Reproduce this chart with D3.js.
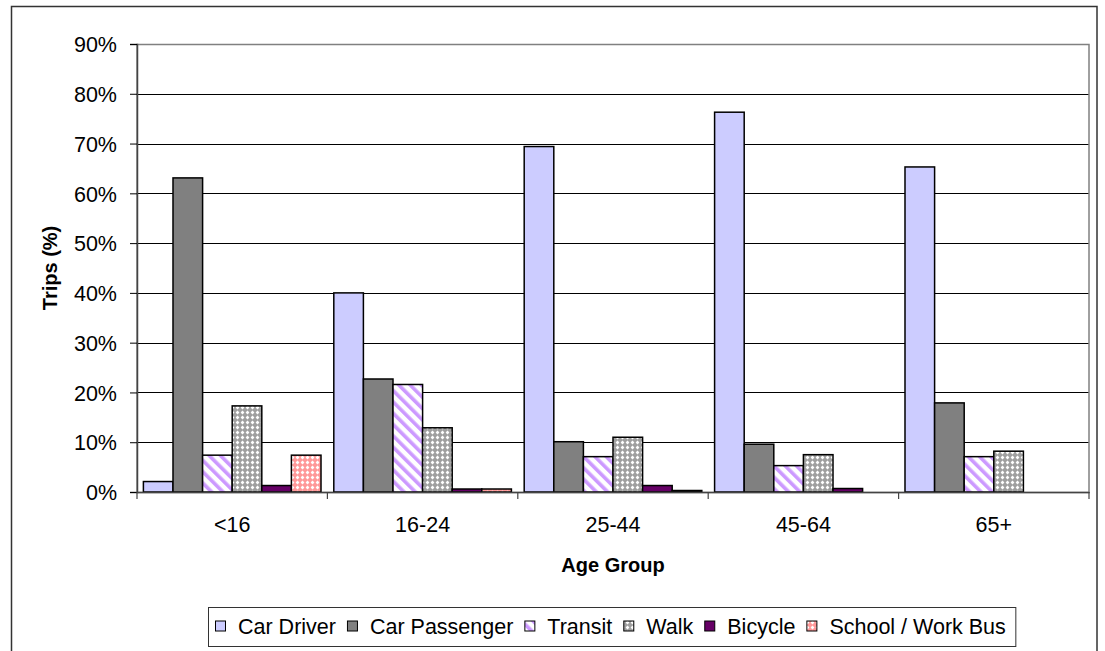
<!DOCTYPE html>
<html>
<head>
<meta charset="utf-8">
<script src="https://cdn.jsdelivr.net/npm/d3@7"></script>
<style>
  html, body { margin: 0; padding: 0; background: #fff; }
  svg { display: block; font-family: "Liberation Sans", Arial, sans-serif; }
</style>
</head>
<body>
<svg id="chart" width="1105" height="651"></svg>
<script>
// Trip mode share by age group
const ageGroups = ["<16", "16-24", "25-44", "45-64", "65+"];
const modes = ["Car Driver", "Car Passenger", "Transit", "Walk", "Bicycle", "School / Work Bus"];

// Share of trips (%) per mode, one array per mode, ordered as ageGroups
const carDriver    = [2.1, 40.0, 69.4, 76.3, 65.3];
const carPassenger = [63.1, 22.7, 10.1, 9.6, 17.9];
const transit      = [7.4, 21.6, 7.1, 5.3, 7.1];
const walk         = [17.3, 12.9, 11.0, 7.5, 8.2];
const bicycle      = [1.3, 0.6, 1.3, 0.7, 0];
const schoolBus    = [7.4, 0.6, 0.3, 0, 0];

const yTicks = [0, 10, 20, 30, 40, 50, 60, 70, 80, 90];

const seriesValues = [carDriver, carPassenger, transit, walk, bicycle, schoolBus];

const svg = d3.select("#chart");
const defs = svg.append("defs");

// Fill patterns
const stripe = defs.append("pattern")
  .attr("id", "pat-transit").attr("patternUnits", "userSpaceOnUse")
  .attr("width", 8).attr("height", 8)
  .attr("patternTransform", "rotate(-45)");
stripe.append("rect").attr("width", 8).attr("height", 8).attr("fill", "#fff");
stripe.append("rect").attr("width", 3.6).attr("height", 8).attr("fill", "#CC99FF");

function dotPattern(id, base) {
  const p = defs.append("pattern")
    .attr("id", id).attr("patternUnits", "userSpaceOnUse")
    .attr("width", 5).attr("height", 5);
  p.append("rect").attr("width", 5).attr("height", 5).attr("fill", base);
  p.append("path").attr("d", "M2.5,0.6 L4.4,2.5 L2.5,4.4 L0.6,2.5 Z").attr("fill", "#fff");
}
dotPattern("pat-walk", "#A0A0A0");
dotPattern("pat-bus", "#FF9999");

const fills = ["#CCCCFF", "#808080", "url(#pat-transit)", "url(#pat-walk)", "#660066", "url(#pat-bus)"];

// Outer chart frame
svg.append("rect")
  .attr("x", 11.5).attr("y", 6.5).attr("width", 1085.5).attr("height", 660)
  .attr("fill", "none").attr("stroke", "#333").attr("stroke-width", 1.5);

const plot = { left: 137, right: 1089, top: 44, bottom: 492 };

const x0 = d3.scaleBand().domain(ageGroups).range([plot.left, plot.right]).padding(0);
const pad = x0.bandwidth() * 0.0336;
const x1 = d3.scaleBand().domain(modes).range([pad, x0.bandwidth() - pad]).padding(0);
const y = d3.scaleLinear().domain([0, 90]).range([plot.bottom, plot.top]);

// Gridlines
svg.append("g").selectAll("line")
  .data(yTicks.filter(t => t > 0 && t < 90))
  .join("line")
  .attr("x1", plot.left).attr("x2", plot.right)
  .attr("y1", d => Math.round(y(d)) + 0.5).attr("y2", d => Math.round(y(d)) + 0.5)
  .attr("stroke", "#000").attr("stroke-width", 1);

// Plot area border
svg.append("rect")
  .attr("x", plot.left).attr("y", plot.top + 0.5)
  .attr("width", plot.right - plot.left).attr("height", plot.bottom - plot.top)
  .attr("fill", "none").attr("stroke", "#808080").attr("stroke-width", 1.5);

// Bars
const barData = [];
ageGroups.forEach((g, gi) => {
  modes.forEach((m, mi) => barData.push({ group: g, mode: m, mi, value: seriesValues[mi][gi] }));
});

svg.append("g").selectAll("rect")
  .data(barData)
  .join("rect")
  .attr("x", d => x0(d.group) + x1(d.mode))
  .attr("y", d => y(d.value))
  .attr("width", x1.bandwidth())
  .attr("height", d => y(0) - y(d.value))
  .attr("fill", d => fills[d.mi])
  .attr("stroke", d => d.value > 0 ? "#000" : "none")
  .attr("stroke-width", 1.5);

// Y axis
const yAxis = d3.axisLeft(y).tickValues(yTicks).tickSize(7).tickPadding(13)
  .tickFormat(d => d + "%");
const gy = svg.append("g").attr("transform", `translate(${plot.left},0)`).call(yAxis);
gy.select(".domain").attr("stroke", "#444").attr("stroke-width", 1.5);
gy.selectAll(".tick line").attr("stroke", "#000");
gy.selectAll(".tick text").attr("font-size", 21.5).attr("fill", "#000")
  .attr("font-family", "Liberation Sans, Arial, sans-serif").attr("dy", "0.36em");

// X axis
const xAxis = d3.axisBottom(x0).tickSize(0).tickPadding(0);
const gx = svg.append("g").attr("transform", `translate(0,${plot.bottom})`).call(xAxis);
gx.select(".domain").attr("stroke", "#444").attr("stroke-width", 1.5);
gx.selectAll(".tick text").attr("font-size", 21.5).attr("fill", "#000")
  .attr("font-family", "Liberation Sans, Arial, sans-serif").attr("y", 40).attr("dy", 0);
// Category boundary ticks
gx.append("g").selectAll("line")
  .data(ageGroups.map(g => x0(g)).concat([plot.right]))
  .join("line")
  .attr("x1", d => d).attr("x2", d => d).attr("y1", 0).attr("y2", 7)
  .attr("stroke", "#444").attr("stroke-width", 1.2);

// Axis titles
svg.append("text")
  .attr("transform", `translate(57,${(plot.top + plot.bottom) / 2}) rotate(-90)`)
  .attr("text-anchor", "middle").attr("font-weight", "bold").attr("font-size", 20)
  .text("Trips (%)");

svg.append("text")
  .attr("x", (plot.left + plot.right) / 2).attr("y", 572)
  .attr("text-anchor", "middle").attr("font-weight", "bold").attr("font-size", 20)
  .text("Age Group");

// Legend
const legend = svg.append("g");
const legendBox = legend.append("rect")
  .attr("x", 208.5).attr("y", 607.5).attr("height", 39)
  .attr("fill", "#fff").attr("stroke", "#333").attr("stroke-width", 1);

let lx = 215;
modes.forEach((m, i) => {
  legend.append("rect")
    .attr("x", lx + 0.5).attr("y", 621).attr("width", 10).attr("height", 10)
    .attr("fill", fills[i]).attr("stroke", "#000").attr("stroke-width", 1);
  const t = legend.append("text")
    .attr("x", lx + 23).attr("y", 633.5)
    .attr("font-size", 21.5).text(m);
  lx += 23 + t.node().getComputedTextLength() + 11;
});
legendBox.attr("width", lx - 11 + 10 - 208.5);
</script>
</body>
</html>
